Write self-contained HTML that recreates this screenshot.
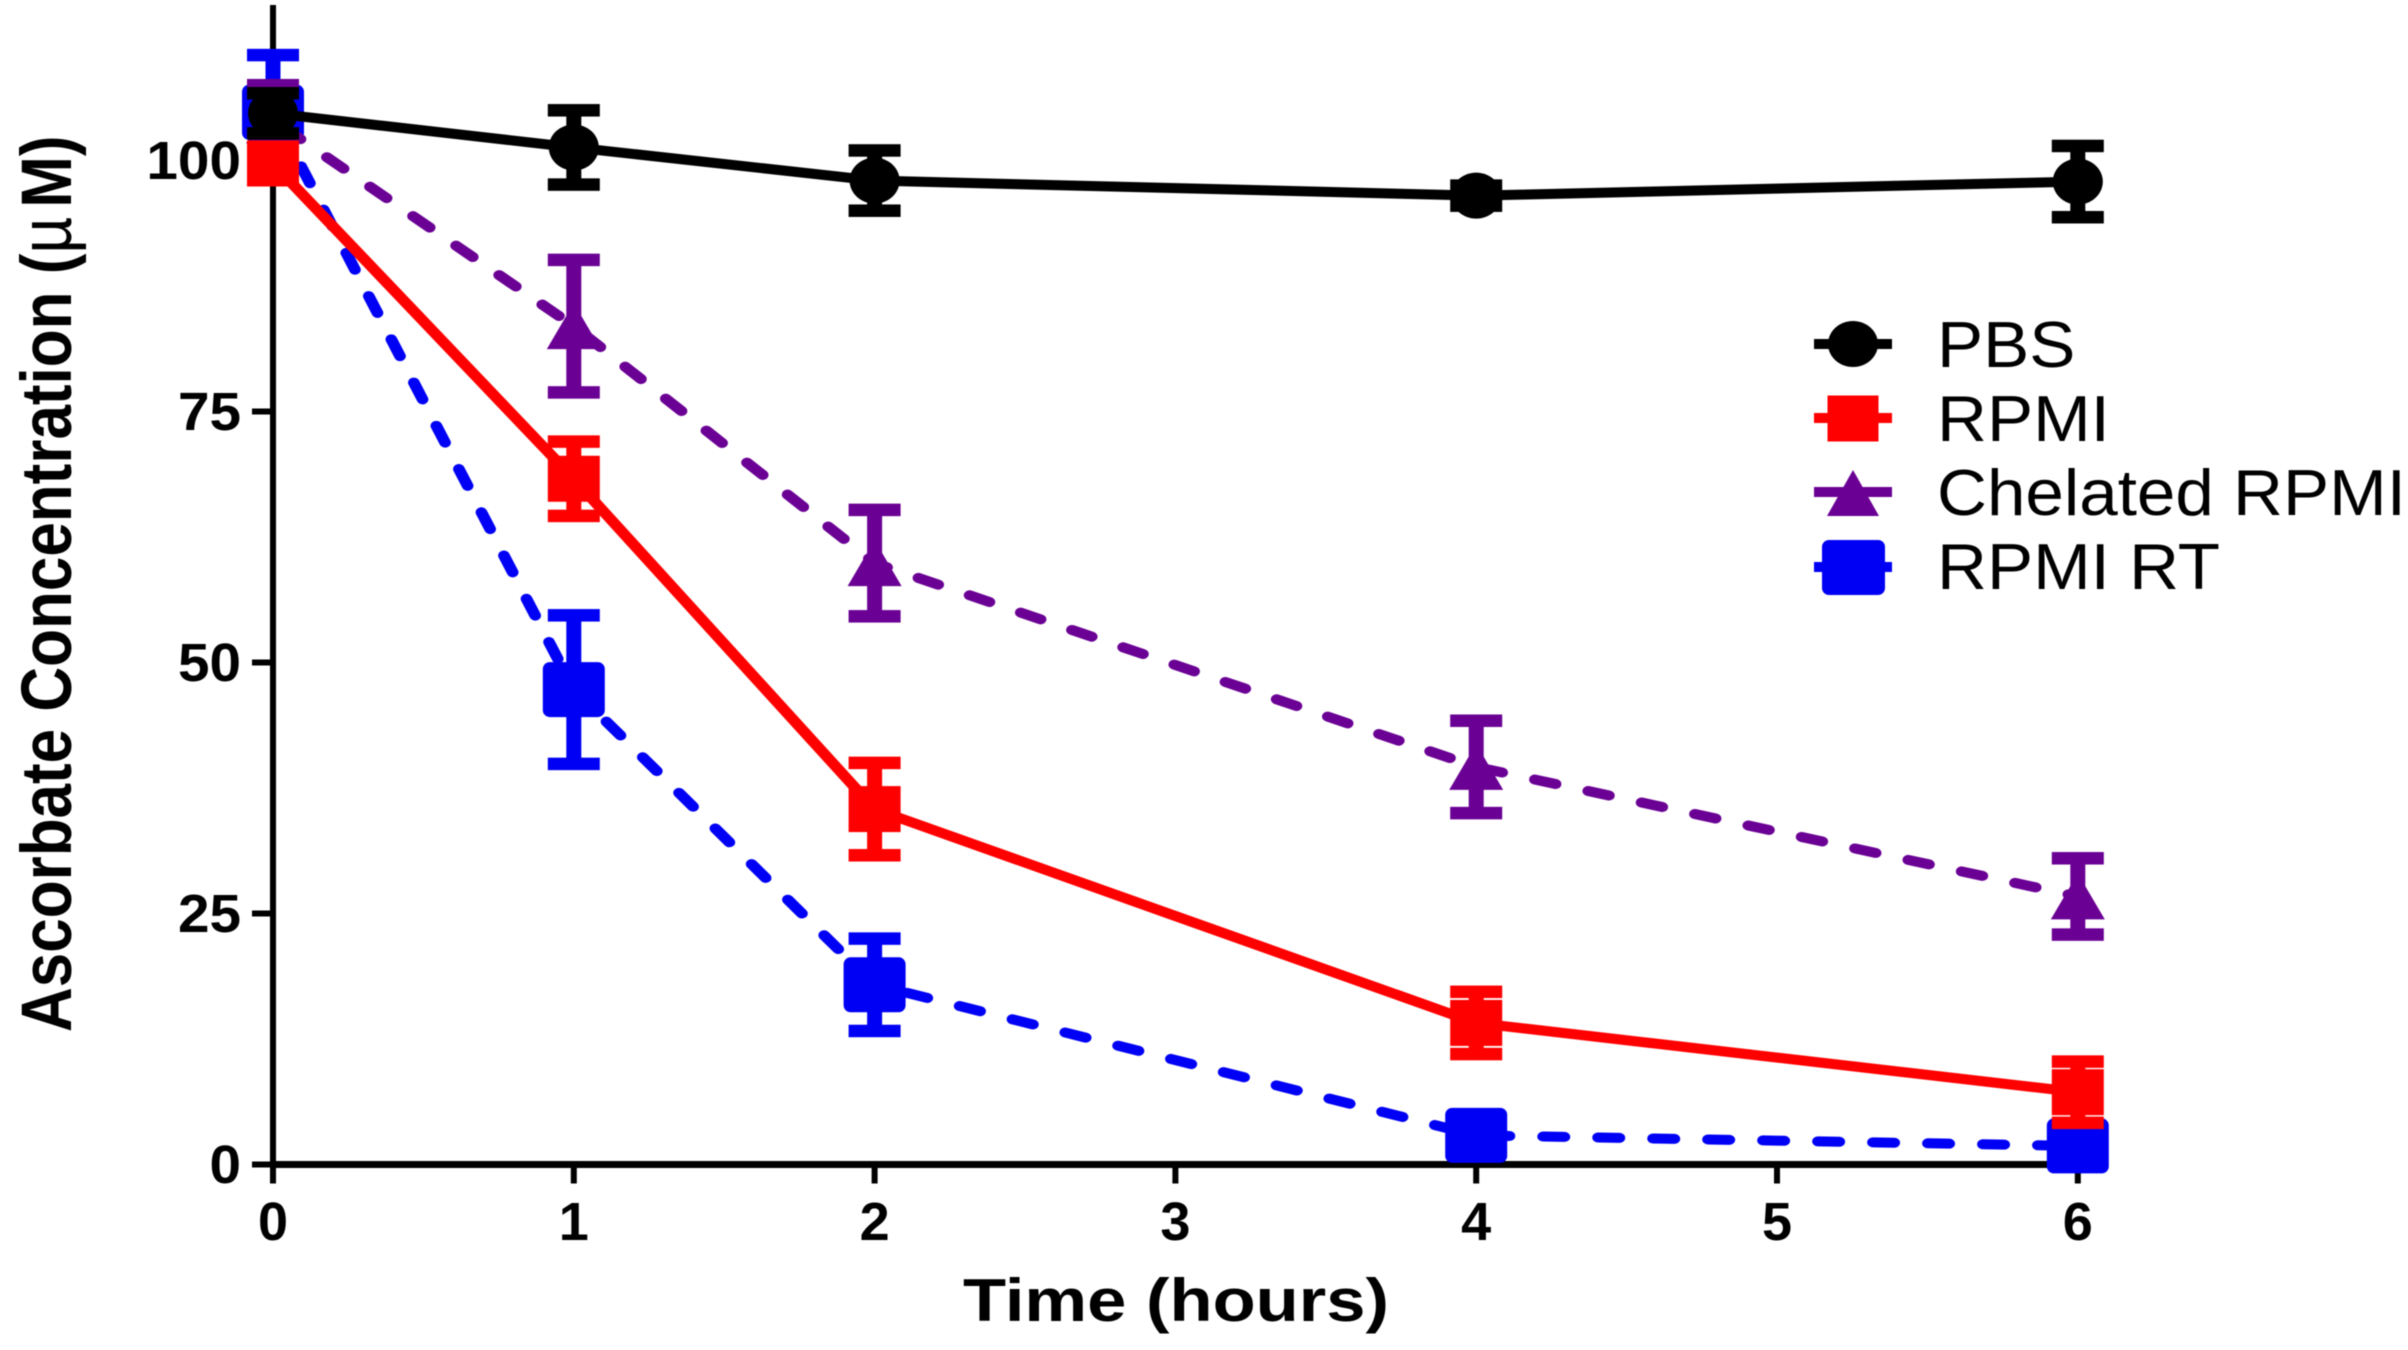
<!DOCTYPE html>
<html lang="en">
<head>
<meta charset="utf-8">
<title>Ascorbate Concentration over Time</title>
<style>
  html, body { margin: 0; padding: 0; background: #fff; }
  body { width: 2408px; height: 1350px; overflow: hidden; }
  svg { display: block; font-family: "Liberation Sans", Arial, sans-serif; filter: blur(0.6px); }
</style>
</head>
<body>
<svg id="chart" xmlns="http://www.w3.org/2000/svg" width="2408" height="1350" viewBox="0 0 2408 1350">
  <rect x="0" y="0" width="2408" height="1350" fill="#fff"/>
  <g id="axes"></g>
  <g id="series"></g>

  <text transform="translate(71,1032) rotate(-90) scale(1,1.15)" font-size="62" font-weight="bold" fill="#000">Ascorbate Concentration (<tspan font-weight="normal" font-size="64">µ</tspan><tspan dx="9">M)</tspan></text>
  <text transform="translate(963,1321) scale(1.176,1)" font-size="60" font-weight="bold" fill="#000">Time (hours)</text>

  <g>
    <g>
      <rect x="1814" y="339" width="78" height="10" fill="#000"/>
      <ellipse cx="1853" cy="344" rx="25" ry="23" fill="#000"/>
      <text transform="translate(1937,367) scale(1.064,1)" font-size="65" fill="#000">PBS</text>
    </g>
    <g>
      <rect x="1814" y="413" width="78" height="10" fill="#f00"/>
      <rect x="1827.5" y="395.5" width="51" height="46" fill="#f00"/>
      <text transform="translate(1937,441) scale(1.064,1)" font-size="65" fill="#000">RPMI</text>
    </g>
    <g>
      <rect x="1814" y="487" width="78" height="10" fill="#6a0094"/>
      <polygon points="1853,470 1879,516 1827,516" fill="#6a0094"/>
      <text transform="translate(1937,515) scale(1.064,1)" font-size="65" fill="#000">Chelated RPMI</text>
    </g>
    <g>
      <rect x="1814" y="562" width="78" height="10" fill="#0000f5"/>
      <rect x="1822" y="540" width="63" height="55" rx="7" ry="7" fill="#0000f5"/>
      <text transform="translate(1937,589) scale(1.064,1)" font-size="65" fill="#000">RPMI RT</text>
    </g>
  </g>
</svg>

<script>
// ---- Chart data ----
const timePoints = [0, 1, 2, 4, 6];
const xTickLabels = [0, 1, 2, 3, 4, 5, 6];
const yTickLabels = [0, 25, 50, 75, 100];

const pbsValues = [104.7, 101.3, 98.0, 96.5, 97.9];
const pbsErrors = [2.0, 3.7, 3.0, 1.0, 3.55];

const rpmiValues = [99.7, 68.3, 35.4, 14.1, 7.2];
const rpmiErrors = [1.0, 3.7, 4.6, 3.1, 3.05];

const chelatedValues = [104.0, 83.5, 59.9, 39.6, 26.7];
const chelatedErrors = [3.5, 6.6, 5.3, 4.6, 3.8];

const rpmiRtValues = [104.8, 47.3, 17.9, 2.9, 1.85];
const rpmiRtErrors = [5.7, 7.4, 4.6, 1.5, 1.0];

// ---- Axis functions ----
const xOrigin = 273, xPerUnit = 300.8;
const yOrigin = 1164.5, yPerUnit = 10.04;
function xScale(t) { return xOrigin + t * xPerUnit; }
function yScale(v) { return yOrigin - v * yPerUnit; }

// The source image is stretched horizontally, so lines and dashes are drawn in a
// compressed x space and scaled back, which reproduces their direction-dependent shape.
const lineStretch = 1.16;

const SVG_NS = 'http://www.w3.org/2000/svg';
function make(parent, tag, props) {
  const el = document.createElementNS(SVG_NS, tag);
  for (const key in props) el.setAttribute(key, props[key]);
  parent.appendChild(el);
  return el;
}

// ---- Axes ----
const axes = document.getElementById('axes');

const yAxisLine = make(axes, 'rect', { x: xOrigin - 3, y: 5, width: 6, height: yOrigin - 5 + 3, fill: '#000' });



const xAxisLine = make(axes, 'rect', { x: xOrigin - 3, y: yOrigin - 3.5, width: xScale(6) - xOrigin + 6, height: 7, fill: '#000' });



yTickLabels.forEach(function (v) {
  const tick = make(axes, 'rect', { x: xOrigin - 21, y: yScale(v) - 3, width: 21, height: 6, fill: '#000' });
  
  

  const label = make(axes, 'text', {
    transform: 'translate(241,' + (yScale(v) + 18.5) + ') scale(1.05,1)',
    'text-anchor': 'end', 'font-size': 54, 'font-weight': 'bold', fill: '#000'
  });
  label.textContent = String(v);
  
  
});

xTickLabels.forEach(function (t) {
  const tick = make(axes, 'rect', { x: xScale(t) - 3, y: yOrigin, width: 6, height: 19, fill: '#000' });
  
  

  const label = make(axes, 'text', {
    x: xScale(t), y: 1240,
    'text-anchor': 'middle', 'font-size': 54, 'font-weight': 'bold', fill: '#000'
  });
  label.textContent = String(t);
  
  
});

// ---- Series ----
const seriesLayer = document.getElementById('series');

function drawMarker(group, shape, cx, cy, color) {
  if (shape === 'circle') {
    return make(group, 'ellipse', { cx: cx, cy: cy, rx: 25, ry: 23, fill: color });
  }
  if (shape === 'square') {
    return make(group, 'rect', { x: cx - 26, y: cy - 23, width: 52, height: 46, fill: color });
  }
  if (shape === 'triangle') {
    return make(group, 'polygon', {
      points: cx + ',' + (cy - 23) + ' ' + (cx + 27) + ',' + (cy + 23) + ' ' + (cx - 27) + ',' + (cy + 23),
      fill: color
    });
  }
  return make(group, 'rect', { x: cx - 31, y: cy - 27.5, width: 62, height: 55, rx: 7, ry: 7, fill: color });
}

function drawSeries(key, values, errors, color, dashed, shape) {
  const group = make(seriesLayer, 'g', {});
  
  

  const pts = timePoints.map(function (t, i) { return (xScale(t) / lineStretch) + ',' + yScale(values[i]); }).join(' ');
  const line = make(group, 'polyline', {
    points: pts, fill: 'none', stroke: color, 'stroke-width': 10,
    transform: 'scale(' + lineStretch + ',1)',
    'stroke-linejoin': 'round', 'stroke-linecap': dashed ? 'round' : 'butt'
  });
  if (dashed) {
    line.setAttribute('stroke-dasharray', '18.4 29');
    line.setAttribute('stroke-dashoffset', '35.5');
  }
  
  

  timePoints.forEach(function (t, i) {
    const cx = xScale(t);
    const top = yScale(values[i] + errors[i]);
    const bottom = yScale(values[i] - errors[i]);

    const stem = make(group, 'rect', { x: cx - 7.5, y: top, width: 15, height: bottom - top, fill: color });
    
    

    const capTop = make(group, 'rect', { x: cx - 26, y: top - 6.25, width: 52, height: 12.5, fill: color });
    
    

    const capBottom = make(group, 'rect', { x: cx - 26, y: bottom - 6.25, width: 52, height: 12.5, fill: color });
    
    

    const marker = drawMarker(group, shape, cx, yScale(values[i]), color);
    
    
  });
}

drawSeries('rpmi-rt', rpmiRtValues, rpmiRtErrors, '#0000f5', true, 'rounded');
drawSeries('chelated-rpmi', chelatedValues, chelatedErrors, '#6a0094', true, 'triangle');
drawSeries('rpmi', rpmiValues, rpmiErrors, '#ff0000', false, 'square');
drawSeries('pbs', pbsValues, pbsErrors, '#000000', false, 'circle');
</script>
</body>
</html>
